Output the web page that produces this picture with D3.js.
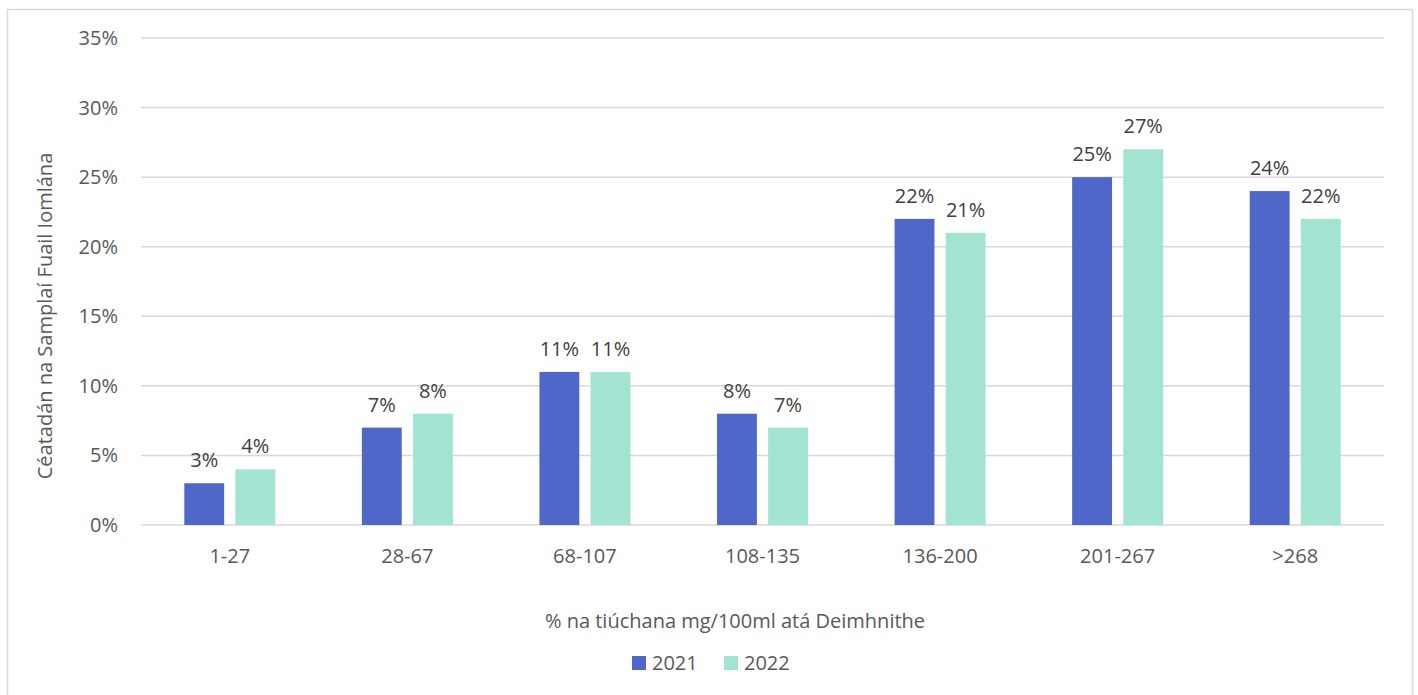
<!DOCTYPE html>
<html>
<head>
<meta charset="utf-8">
<script src="https://cdn.jsdelivr.net/npm/d3@7"></script>
<style>
  body { margin: 0; background: #fff; }
  svg text { font-family: "Open Sans", "Noto Sans", sans-serif; fill: #595959; }
</style>
</head>
<body>
<div id="chart"></div>
<script>
var categories = ['1-27', '28-67', '68-107', '108-135', '136-200', '201-267', '>268'];
var seriesNames = ['2021', '2022'];
var values2021 = [3, 7, 11, 8, 22, 25, 24];
var values2022 = [4, 8, 11, 7, 21, 27, 22];
var yTicks = [0, 5, 10, 15, 20, 25, 30, 35];
var colors = ['#4f67c8', '#a2e3d1'];

var W = 1418, H = 695;
var m = { left: 141, right: 34, top: 38, bottom: 170 };
var fs = 20;

var svg = d3.select('#chart').append('svg')
  .attr('width', W)
  .attr('height', H);

svg.append('rect')
  .attr('x', 7.5).attr('y', 9.5)
  .attr('width', 1405).attr('height', 700)
  .attr('fill', 'none')
  .attr('stroke', '#d9d9d9')
  .attr('stroke-width', 1.5);

var x = d3.scaleBand()
  .domain(categories)
  .range([m.left, W - m.right]);

var x1 = d3.scaleBand()
  .domain(seriesNames)
  .range([0, 91])
  .paddingInner(0.22);

var y = d3.scaleLinear()
  .domain([0, 35])
  .range([H - m.bottom, m.top]);

// grid
svg.append('g')
  .selectAll('line')
  .data(yTicks)
  .join('line')
  .attr('x1', m.left).attr('x2', W - m.right)
  .attr('y1', d => y(d)).attr('y2', d => y(d))
  .attr('stroke', '#d9d9d9')
  .attr('stroke-width', 1.5);

// y labels
svg.append('g')
  .selectAll('text')
  .data(yTicks)
  .join('text')
  .attr('x', 118)
  .attr('y', d => y(d) + 7)
  .attr('text-anchor', 'end')
  .attr('font-size', fs)
  .text(d => d + '%');

var series = [values2021, values2022];
var groups = svg.append('g')
  .selectAll('g')
  .data(series)
  .join('g');

groups.each(function (vals, si) {
  var g = d3.select(this);
  g.selectAll('rect')
    .data(vals)
    .join('rect')
    .attr('x', (d, i) => x(categories[i]) + (x.bandwidth() - 91) / 2 + x1(seriesNames[si]))
    .attr('y', d => y(d))
    .attr('width', x1.bandwidth())
    .attr('height', d => y(0) - y(d))
    .attr('fill', colors[si]);
  g.selectAll('text')
    .data(vals)
    .join('text')
    .attr('x', (d, i) => x(categories[i]) + (x.bandwidth() - 91) / 2 + x1(seriesNames[si]) + x1.bandwidth() / 2)
    .attr('y', d => y(d) - 16)
    .attr('text-anchor', 'middle')
    .attr('font-size', fs)
    .style('fill', '#404040')
    .text(d => d + '%');
});

// x labels
svg.append('g')
  .selectAll('text')
  .data(categories)
  .join('text')
  .attr('x', d => x(d) + x.bandwidth() / 2)
  .attr('y', 563)
  .attr('text-anchor', 'middle')
  .attr('font-size', fs)
  .text(d => d);

svg.append('text')
  .attr('x', 735)
  .attr('y', 628)
  .attr('text-anchor', 'middle')
  .attr('font-size', fs)
  .text('% na tiúchana mg/100ml atá Deimhnithe');

svg.append('text')
  .attr('transform', 'translate(52,316) rotate(270)')
  .attr('text-anchor', 'middle')
  .attr('font-size', fs)
  .text('Céatadán na Samplaí Fuail Iomlána');

// legend
var legend = svg.append('g')
  .selectAll('g')
  .data(seriesNames)
  .join('g')
  .attr('transform', (d, i) => 'translate(' + (632 + i * 92) + ',656)');
legend.append('rect')
  .attr('width', 14).attr('height', 14)
  .attr('fill', (d, i) => colors[i]);
legend.append('text')
  .attr('x', 20).attr('y', 14)
  .attr('font-size', fs)
  .text(d => d);
</script>
</body>
</html>
